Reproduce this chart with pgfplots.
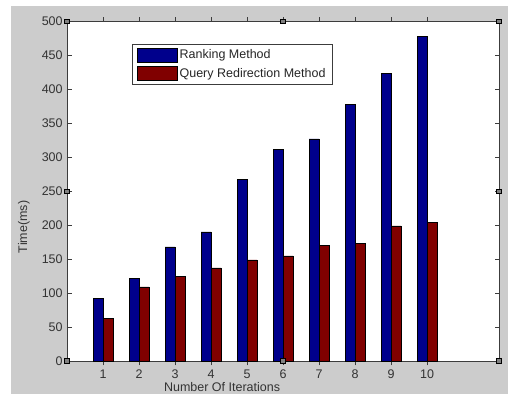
\documentclass[border=0pt]{standalone}
\usepackage{fontspec}
\setmainfont{Liberation Sans}
\usepackage{pgfplots}
\pgfplotsset{compat=1.18}
\definecolor{figgray}{HTML}{CCCCCC}
\definecolor{mblue}{HTML}{00008C}
\definecolor{mred}{HTML}{800000}
\definecolor{axgray}{HTML}{3C3C3C}
\tikzset{handle/.style={draw=black, fill=gray, line width=0.8pt, minimum size=4.5pt, inner sep=0pt}}
\begin{document}
\begin{tikzpicture}
\fontsize{12.5}{15}\selectfont
\fill[white] (0,0) rectangle (508pt,394pt);
\fill[figgray] (11pt,0) rectangle (508pt,388pt);
\begin{axis}[
  at={(67pt,33pt)}, anchor=south west,
  scale only axis, width=432pt, height=339.5pt,
  axis background/.style={fill=white},
  xmin=0, xmax=12, ymin=0, ymax=500,
  xtick={1,...,10}, ytick={0,50,...,500},
  tick align=inside, major tick length=4.5pt,
  axis line style={axgray, line width=0.7pt},
  every tick/.style={axgray, line width=0.7pt},
  tick label style={font=\fontsize{12.5}{15}\selectfont, text=black!80},
  /pgf/number format/assume math mode=true,
  ybar, bar width=10pt,
  ylabel={Time(ms)},
  xlabel={Number Of Iterations},
  label style={font=\fontsize{12.5}{15}\selectfont, text=black!80},
  ylabel style={at={(axis description cs:-0.0995,0.395)}, anchor=center},
  xlabel style={at={(axis description cs:0.359,-0.0766)}, anchor=center},
  legend style={at={(axis description cs:0.1505,0.934)}, anchor=north west,
    draw=axgray, line width=0.6pt, fill=white,
    font=\fontsize{12.5}{15}\selectfont, text=black!85,
    inner xsep=5pt, inner ysep=3pt, row sep=4pt,
    legend cell align=left},
  clip=false,
]
\addplot[fill=mblue, draw=black, line width=0.3pt, bar shift=-5pt,
  legend image code/.code={\draw[fill=mblue,draw=black,line width=0.3pt] (0pt,-7pt) rectangle (40pt,7pt);}]
  coordinates {(1,92) (2,122) (3,168) (4,190) (5,268) (6,312) (7,327) (8,378) (9,424) (10,478)};
\addplot[fill=mred, draw=black, line width=0.3pt, bar shift=5pt,
  legend image code/.code={\draw[fill=mred,draw=black,line width=0.3pt] (0pt,-7pt) rectangle (40pt,7pt);}]
  coordinates {(1,63) (2,109) (3,125) (4,137) (5,149) (6,155) (7,170) (8,173) (9,199) (10,204)};
\legend{Ranking Method, Query Redirection Method}
\node[handle] at (rel axis cs:0,0) {};
\node[handle] at (rel axis cs:0.5,0) {};
\node[handle] at (rel axis cs:1,0) {};
\node[handle] at (rel axis cs:0,0.5) {};
\node[handle] at (rel axis cs:1,0.5) {};
\node[handle] at (rel axis cs:0,1) {};
\node[handle] at (rel axis cs:0.5,1) {};
\node[handle] at (rel axis cs:1,1) {};
\end{axis}
\end{tikzpicture}
\end{document}
